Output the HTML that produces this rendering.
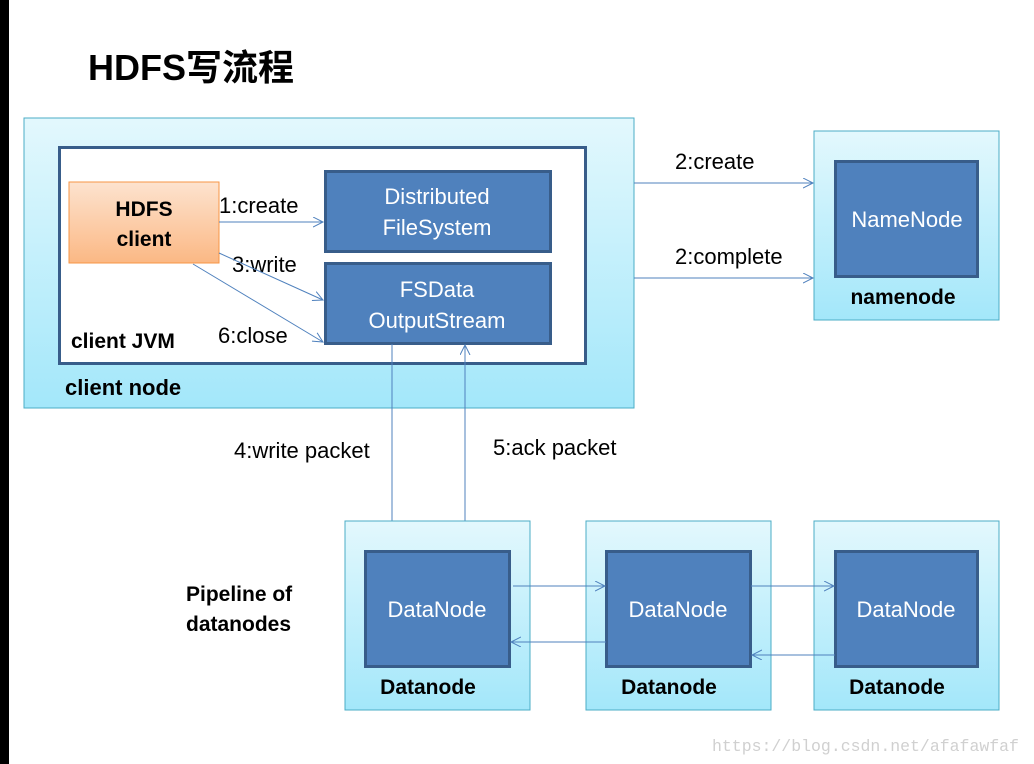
<!DOCTYPE html>
<html><head><meta charset="utf-8"><style>
html,body{margin:0;padding:0;background:#fff}
svg{display:block}
text{font-family:"Liberation Sans","Noto Sans CJK SC",sans-serif}
text.m{font-family:"Liberation Mono",monospace}
</style></head><body>
<svg width="1034" height="764" viewBox="0 0 1034 764" xmlns="http://www.w3.org/2000/svg">
<defs>
<linearGradient id="cy" x1="0" y1="0" x2="0" y2="1"><stop offset="0" stop-color="#e3f8fd"/><stop offset="1" stop-color="#a3e7fa"/></linearGradient>
<linearGradient id="or" x1="0" y1="0" x2="0" y2="1"><stop offset="0" stop-color="#fde3cf"/><stop offset="1" stop-color="#fbb884"/></linearGradient>
<marker id="a" markerWidth="12" markerHeight="12" refX="10" refY="5" orient="auto" markerUnits="userSpaceOnUse"><path d="M0,0 L10,5 L0,10" fill="none" stroke="#4f81bd" stroke-width="1"/></marker>
</defs>
<rect x="0" y="0" width="9" height="764" fill="#000"/>
<text x="88" y="80" font-size="36" font-weight="bold" fill="#000">HDFS写流程</text>

<rect x="24" y="118" width="610" height="290" fill="url(#cy)" stroke="#4bacc6" stroke-width="1"/>
<rect x="59.5" y="147.5" width="526" height="216" fill="#fff" stroke="#385d8a" stroke-width="3"/>
<rect x="69" y="182" width="150" height="81" fill="url(#or)" stroke="#f79646" stroke-width="1"/>
<text x="144" y="216" font-size="21" font-weight="bold" text-anchor="middle">HDFS</text>
<text x="144" y="246" font-size="21" font-weight="bold" text-anchor="middle">client</text>
<rect x="325.5" y="171.5" width="225" height="80" fill="#4f81bd" stroke="#385d8a" stroke-width="3"/>
<text x="437" y="204" font-size="22" fill="#fff" text-anchor="middle">Distributed</text>
<text x="437" y="235" font-size="22" fill="#fff" text-anchor="middle">FileSystem</text>
<rect x="325.5" y="263.5" width="225" height="80" fill="#4f81bd" stroke="#385d8a" stroke-width="3"/>
<text x="437" y="297" font-size="22" fill="#fff" text-anchor="middle">FSData</text>
<text x="437" y="328" font-size="22" fill="#fff" text-anchor="middle">OutputStream</text>
<text x="71" y="348" font-size="21" font-weight="bold">client JVM</text>
<text x="65" y="395" font-size="22" font-weight="bold">client node</text>

<text x="219" y="213" font-size="22">1:create</text>
<text x="232" y="272" font-size="22">3:write</text>
<text x="218" y="343" font-size="22">6:close</text>
<line x1="219" y1="222" x2="323" y2="222" stroke="#4f81bd" marker-end="url(#a)"/>
<line x1="219" y1="253" x2="323" y2="300" stroke="#4f81bd" marker-end="url(#a)"/>
<line x1="193" y1="264" x2="323" y2="342" stroke="#4f81bd" marker-end="url(#a)"/>

<rect x="814" y="131" width="185" height="189" fill="url(#cy)" stroke="#4bacc6"/>
<rect x="835.5" y="161.5" width="142" height="115" fill="#4f81bd" stroke="#385d8a" stroke-width="3"/>
<text x="907" y="227" font-size="22" fill="#fff" text-anchor="middle">NameNode</text>
<text x="903" y="304" font-size="21" font-weight="bold" text-anchor="middle">namenode</text>
<text x="675" y="169" font-size="22">2:create</text>
<text x="675" y="264" font-size="22">2:complete</text>
<line x1="634" y1="183" x2="813" y2="183" stroke="#4f81bd" marker-end="url(#a)"/>
<line x1="634" y1="278" x2="813" y2="278" stroke="#4f81bd" marker-end="url(#a)"/>

<line x1="392" y1="344" x2="392" y2="549" stroke="#4f81bd" marker-end="url(#a)"/>
<line x1="465" y1="550" x2="465" y2="345" stroke="#4f81bd" marker-end="url(#a)"/>
<text x="234" y="458" font-size="22">4:write packet</text>
<text x="493" y="455" font-size="22">5:ack packet</text>
<text x="186" y="601" font-size="21" font-weight="bold">Pipeline of</text>
<text x="186" y="631" font-size="21" font-weight="bold">datanodes</text>

<g>
<rect x="345" y="521" width="185" height="189" fill="url(#cy)" stroke="#4bacc6"/>
<rect x="365.5" y="551.5" width="144" height="115" fill="#4f81bd" stroke="#385d8a" stroke-width="3"/>
<text x="437" y="617" font-size="22" fill="#fff" text-anchor="middle">DataNode</text>
<text x="428" y="694" font-size="21" font-weight="bold" text-anchor="middle">Datanode</text>
</g>
<g>
<rect x="586" y="521" width="185" height="189" fill="url(#cy)" stroke="#4bacc6"/>
<rect x="606.5" y="551.5" width="144" height="115" fill="#4f81bd" stroke="#385d8a" stroke-width="3"/>
<text x="678" y="617" font-size="22" fill="#fff" text-anchor="middle">DataNode</text>
<text x="669" y="694" font-size="21" font-weight="bold" text-anchor="middle">Datanode</text>
</g>
<g>
<rect x="814" y="521" width="185" height="189" fill="url(#cy)" stroke="#4bacc6"/>
<rect x="835.5" y="551.5" width="142" height="115" fill="#4f81bd" stroke="#385d8a" stroke-width="3"/>
<text x="906" y="617" font-size="22" fill="#fff" text-anchor="middle">DataNode</text>
<text x="897" y="694" font-size="21" font-weight="bold" text-anchor="middle">Datanode</text>
</g>
<line x1="513" y1="586" x2="605" y2="586" stroke="#4f81bd" marker-end="url(#a)"/>
<line x1="606" y1="642" x2="511" y2="642" stroke="#4f81bd" marker-end="url(#a)"/>
<line x1="751" y1="586" x2="834" y2="586" stroke="#4f81bd" marker-end="url(#a)"/>
<line x1="835" y1="655" x2="752" y2="655" stroke="#4f81bd" marker-end="url(#a)"/>

<text class="m" x="712" y="751" font-size="16.5" fill="#d0d0d0">https://blog.csdn.net/afafawfaf</text>
</svg>
</body></html>
